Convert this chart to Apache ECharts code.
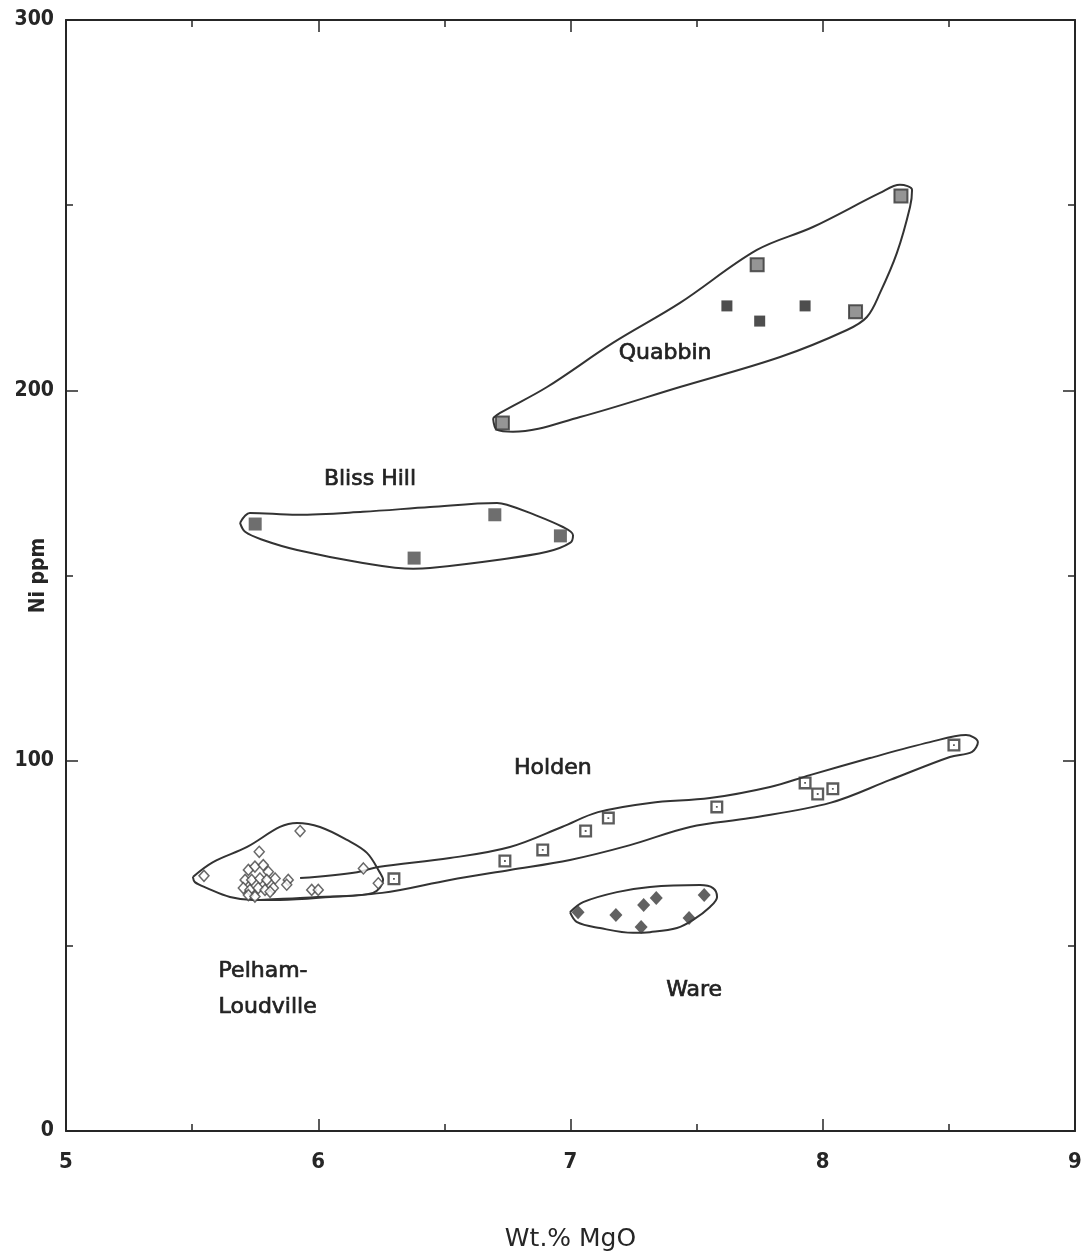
<!DOCTYPE html>
<html><head><meta charset="utf-8">
<script src="https://cdn.jsdelivr.net/npm/echarts@6/dist/echarts.min.js"></script>
<style>html,body{margin:0;padding:0;background:#fff}#c{width:1085px;height:1260px}</style>
</head><body><div id="c"></div>
<script>
// ---- Data (Wt.% MgO, Ni ppm) ----
const quabbinGray = [[6.73,191.2],[7.74,233.9],[8.13,221.2],[8.31,252.5]];
const quabbinBlack = [[7.62,222.8],[7.75,218.7],[7.93,222.8]];
const blissHill = [[5.75,163.9],[6.38,154.7],[6.70,166.4],[6.96,160.7]];
const holden = [[6.30,68.1],[6.74,72.9],[6.89,75.9],[7.06,81.0],[7.15,84.5],[7.58,87.5],[7.93,94.0],[7.98,91.0],[8.04,92.4],[8.52,104.2]];
const ware = [[7.03,59.1],[7.18,58.3],[7.28,55.1],[7.29,61.0],[7.34,62.9],[7.47,57.5],[7.53,63.7]];
const pelham = [[5.547,68.9],[5.928,81.0],[5.766,75.4],[5.723,70.5],[5.749,71.4],[5.782,71.8],[5.802,70.0],[5.829,68.2],
  [5.710,67.8],[5.736,67.8],[5.769,68.2],[5.796,67.8],[5.822,65.6],[5.703,65.6],[5.729,65.1],[5.762,65.6],[5.789,65.1],
  [5.723,63.7],[5.749,63.3],[5.809,64.6],[5.881,67.8],[5.875,66.5],[5.974,65.1],[6.000,65.1],[6.179,70.9],[6.238,66.9]];

// Hand-drawn group envelopes (data coordinates)
const quabbinEnv = [[6.693,192.5],[6.721,193.9],[6.907,200.9],[7.168,212.8],[7.434,223.6],[7.739,237.9],[7.961,244.1],[8.227,253.3],[8.306,255.5],[8.354,254.1],[8.346,249.5],[8.294,237.1],[8.227,226.3],[8.175,219.8],[8.096,216.3],[7.831,209.0],[7.434,200.9],[7.038,192.8],[6.772,188.8],[6.709,189.3],[6.693,192.5]];
const blissEnv = [[5.690,164.2],[5.729,166.9],[5.916,166.4],[6.177,167.2],[6.443,168.5],[6.709,169.6],[6.748,169.1],[6.839,166.9],[6.970,163.1],[7.010,160.9],[6.998,158.8],[6.907,156.4],[6.709,154.2],[6.443,152.0],[6.376,151.8],[6.177,153.4],[5.916,156.9],[5.781,159.6],[5.710,161.8],[5.690,164.2]];
const pelhamEnv = [[5.503,68.6],[5.583,72.6],[5.718,76.7],[5.848,82.1],[5.916,83.2],[6.007,82.1],[6.114,78.6],[6.193,75.1],[6.245,69.7],[6.257,67.8],[6.217,64.3],[6.047,63.2],[5.848,62.4],[5.741,62.4],[5.650,63.2],[5.559,65.6],[5.511,67.2],[5.503,68.6]];
const holdenEnv = [[5.928,68.3],[6.154,69.9],[6.237,71.3],[6.522,73.7],[6.760,76.7],[6.966,82.1],[7.109,86.1],[7.315,88.6],[7.553,89.9],[7.791,92.9],[7.949,96.1],[8.187,100.7],[8.425,105.0],[8.568,106.9],[8.615,105.0],[8.592,102.4],[8.504,101.0],[8.267,94.8],[8.029,88.6],[7.712,84.5],[7.474,82.1],[7.236,77.2],[6.998,73.2],[6.760,70.5],[6.522,67.8],[6.253,64.3],[5.928,62.9],[5.769,62.4]];
const wareEnv = [[6.998,59.1],[7.050,61.8],[7.184,64.5],[7.315,65.9],[7.513,66.4],[7.565,65.6],[7.581,63.2],[7.553,60.5],[7.486,57.0],[7.422,54.8],[7.315,53.7],[7.248,53.5],[7.117,54.8],[7.026,56.4],[6.998,59.1]];

// Group labels: [x, y, text, align]
const groupLabels = [[7.375,210,'Quabbin','center'],[6.205,176,'Bliss Hill','center'],[6.93,98,'Holden','center'],
  [5.605,43,'Pelham-','left'],[5.605,33.5,'Loudville','left'],[7.49,38,'Ware','center']];

const xTicks = {min:5, max:9, interval:1};
const yTicks = {min:0, max:300, interval:100};

const ink = '#262626';
const labelFont = '"DejaVu Sans","Noto Sans",sans-serif';
const numFont = '"DejaVu Sans Condensed","DejaVu Sans",sans-serif';

function envSeries(d){
  return {type:'line', data:d, smooth:0.35, symbol:'none', silent:true,
    lineStyle:{color:'#333', width:2}, z:2, animation:false};
}
const holdenSym = 'path://M0,0H10V10H0Z M1.8,1.8V8.2H8.2V1.8Z M4.3,4.3H5.7V5.7H4.3Z';

const chart = echarts.init(document.getElementById('c'));
const axisCommon = {
  axisLine:{show:true, onZero:false, lineStyle:{color:ink, width:2}},
  axisTick:{show:true, inside:true, length:12, lineStyle:{color:ink, width:1.5}},
  minorTick:{show:true, splitNumber:2, length:7, lineStyle:{color:ink, width:1.5}},
  splitLine:{show:false}
};
chart.setOption({
  animation:false,
  backgroundColor:'#fff',
  grid:{left:66, right:10, top:20, bottom:129, containLabel:false, outerBoundsMode:'none'},
  xAxis:[
    Object.assign({type:'value', position:'bottom', min:xTicks.min, max:xTicks.max, interval:xTicks.interval,
      name:'Wt.% MgO', nameLocation:'middle', nameGap:96, nameMoveOverlap:false,
      nameTextStyle:{fontFamily:labelFont, fontSize:25, color:ink},
      axisLabel:{margin:20, fontFamily:numFont, fontWeight:'bold', fontSize:22, color:ink}}, axisCommon),
    Object.assign({type:'value', position:'top', min:xTicks.min, max:xTicks.max, interval:xTicks.interval,
      axisLabel:{show:false}}, axisCommon)
  ],
  yAxis:[
    Object.assign({type:'value', position:'left', min:yTicks.min, max:yTicks.max, interval:yTicks.interval,
      name:'Ni ppm', nameLocation:'middle', nameGap:17, nameMoveOverlap:false,
      nameTextStyle:{fontFamily:numFont, fontWeight:'bold', fontSize:21, color:ink},
      axisLabel:{margin:12, fontFamily:numFont, fontWeight:'bold', fontSize:21, color:ink}}, axisCommon),
    Object.assign({type:'value', position:'right', min:yTicks.min, max:yTicks.max, interval:yTicks.interval,
      axisLabel:{show:false}}, axisCommon)
  ],
  series:[
    envSeries(quabbinEnv), envSeries(blissEnv), envSeries(pelhamEnv), envSeries(holdenEnv), envSeries(wareEnv),
    {type:'scatter', data:quabbinGray, symbol:'rect', symbolSize:13, z:5,
      itemStyle:{color:'#7a7a7a', borderColor:'#333', borderWidth:2}},
    {type:'scatter', data:quabbinBlack, symbol:'rect', symbolSize:11, z:5, itemStyle:{color:'#222'}},
    {type:'scatter', data:blissHill, symbol:'rect', symbolSize:13, z:5, itemStyle:{color:'#4a4a4a'}},
    {type:'scatter', data:holden, symbol:holdenSym, symbolSize:13, z:5, itemStyle:{color:'#333'}},
    {type:'scatter', data:ware, symbol:'diamond', symbolSize:[13,14], z:5, itemStyle:{color:'#3a3a3a'}},
    {type:'scatter', data:pelham, symbol:'diamond', symbolSize:[10,11], z:5,
      itemStyle:{color:'#fff', borderColor:'#444', borderWidth:1.5}},
    {type:'scatter', data:groupLabels.map(l=>({value:[l[0],l[1]], name:l[2],
        label:{align:l[3], position:l[3]==='left'?'right':'inside', distance:0}})),
      symbolSize:0, z:6, silent:true,
      label:{show:true, position:'inside', formatter:p=>p.name, fontFamily:labelFont, fontSize:22,
        color:'#222', textBorderColor:'#222', textBorderWidth:0.7, opacity:1}}
  ]
});
</script></body></html>
